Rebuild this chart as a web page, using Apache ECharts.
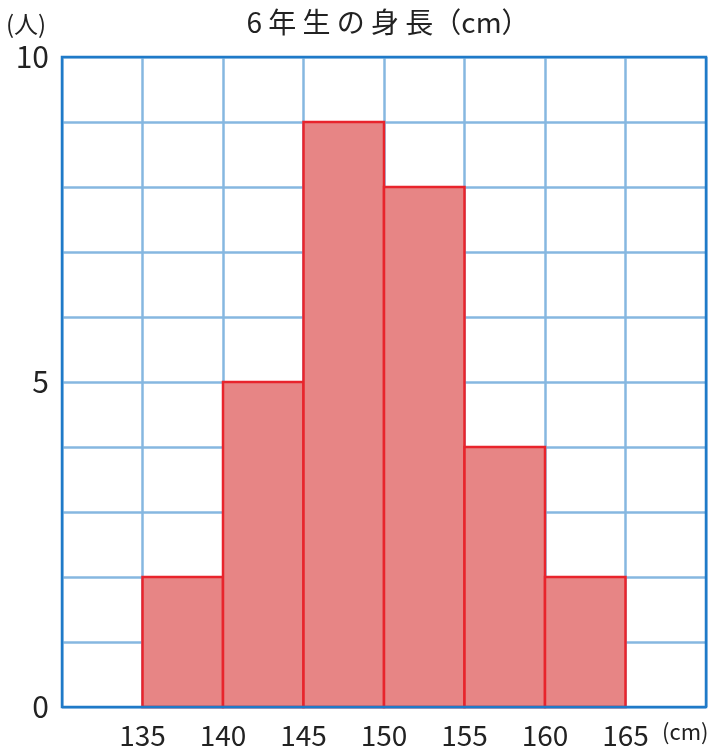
<!DOCTYPE html>
<html><head><meta charset="utf-8">
<script src="https://cdn.jsdelivr.net/npm/echarts@6/dist/echarts.min.js"></script>
<style>html,body{margin:0;padding:0;background:#fff}#c{width:723px;height:751px}</style>
</head><body><div id="c"></div>
<script>
const binStarts = [135, 140, 145, 150, 155, 160];
const binWidth = 5;
const counts = [2, 5, 9, 8, 4, 2];
const xTickLabels = [135, 140, 145, 150, 155, 160, 165];
const yTickLabels = [0, 5, 10];
const titleText = '6 年 生 の 身 長（cm）';
const yUnit = '(人)';
const xUnit = '(cm)';

const data = binStarts.map((s, i) => [s, s + binWidth, counts[i]]);
const font = '"Noto Sans CJK JP", "Noto Sans", sans-serif';

const chart = echarts.init(document.getElementById('c'), null, {renderer: 'canvas'});
chart.setOption({
  animation: false,
  backgroundColor: '#fff',
  title: {
    text: titleText, left: 383, top: 3, textAlign: 'center',
    textStyle: {fontFamily: font, fontSize: 28, fontWeight: 'normal', color: '#222'}
  },
  graphic: [
    {type: 'text', left: 6, top: 12, style: {text: yUnit, font: '24px ' + font, fill: '#222'}},
    {type: 'text', left: 662, top: 721, style: {text: xUnit, font: '22px ' + font, fill: '#222'}}
  ],
  grid: {left: 62, right: 17, top: 57, bottom: 44, show: false},
  xAxis: {
    type: 'value', min: 130, max: 170, interval: 5,
    axisLine: {show: false}, axisTick: {show: false},
    splitLine: {show: true, lineStyle: {color: '#86b7e0', width: 2.5}},
    axisLabel: {
      margin: 14, fontSize: 28, fontFamily: font, color: '#222',
      formatter: v => xTickLabels.includes(v) ? String(v) : ''
    }
  },
  yAxis: {
    type: 'value', min: 0, max: 10, interval: 1,
    axisLine: {show: false}, axisTick: {show: false},
    splitLine: {show: true, lineStyle: {color: '#86b7e0', width: 2.5}},
    axisLabel: {
      margin: 13, fontSize: 30, fontFamily: font, color: '#222',
      padding: [6, 0, 0, 0],
      formatter: v => yTickLabels.includes(v) ? String(v) : ''
    }
  },
  series: [
    {
      type: 'custom',
      data: data,
      encode: {x: [0, 1], y: 2},
      z: 5,
      renderItem: function (params, api) {
        const p0 = api.coord([api.value(0), 0]);
        const p1 = api.coord([api.value(1), api.value(2)]);
        return {
          type: 'rect',
          shape: {x: p0[0], y: p1[1], width: p1[0] - p0[0], height: p0[1] - p1[1]},
          style: {fill: '#e78585', stroke: '#e8242c', lineWidth: 2.5}
        };
      }
    },
    {
      type: 'custom',
      data: [[130, 170, 0, 10]],
      z: 10,
      silent: true,
      renderItem: function (params, api) {
        const a = api.coord([api.value(0), api.value(2)]);
        const b = api.coord([api.value(1), api.value(3)]);
        return {
          type: 'rect',
          shape: {x: a[0], y: b[1], width: b[0] - a[0], height: a[1] - b[1]},
          style: {fill: 'none', stroke: '#1f7ac8', lineWidth: 2.5}
        };
      }
    }
  ]
});
</script></body></html>
